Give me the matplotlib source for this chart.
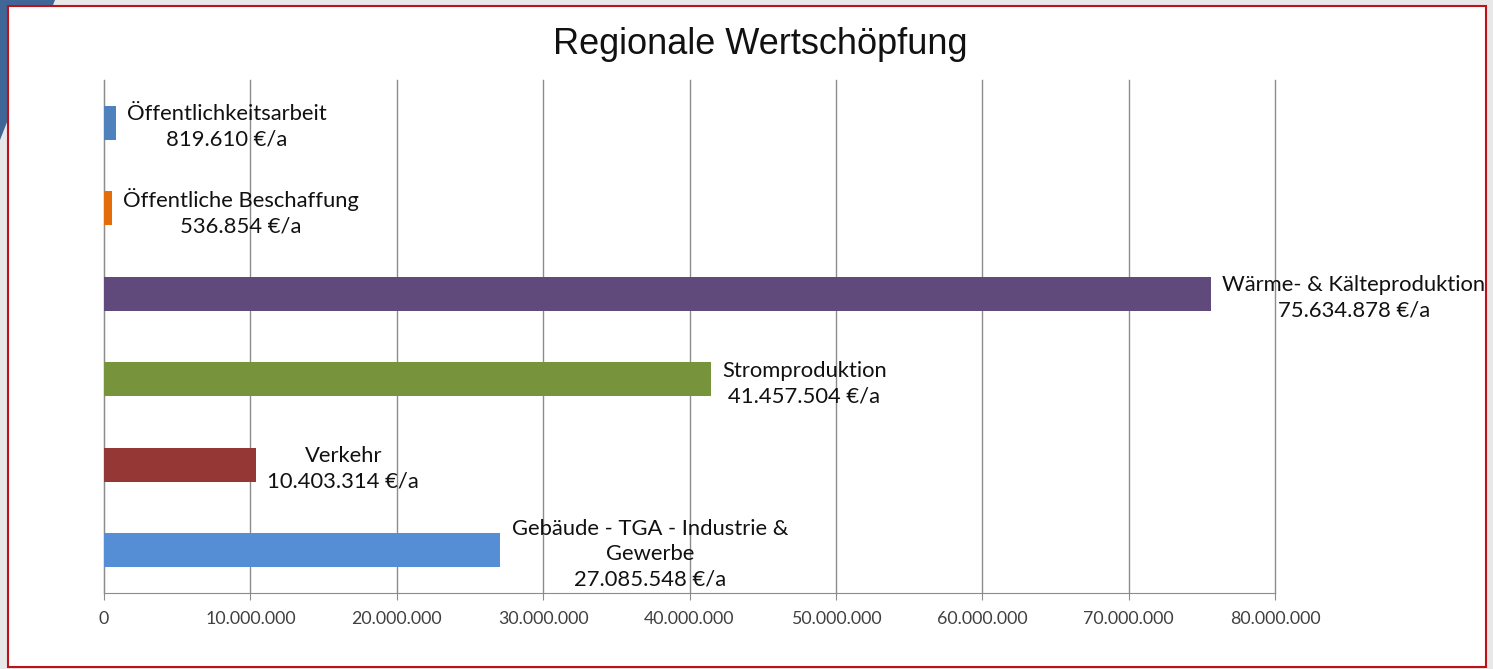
import matplotlib
matplotlib.use("Agg")
import matplotlib.pyplot as plt
from matplotlib.patches import Rectangle, Polygon
from matplotlib.ticker import FuncFormatter

# data
categories = ['Gebäude - TGA - Industrie &\nGewerbe', 'Verkehr', 'Stromproduktion',
              'Wärme- & Kälteproduktion', 'Öffentliche Beschaffung', 'Öffentlichkeitsarbeit']
values = [27085548, 10403314, 41457504, 75634878, 536854, 819610]
colors = ['#558ED5', '#953735', '#77933C', '#604A7B', '#E46C0A', '#4F81BD']
xticks = [0, 10000000, 20000000, 30000000, 40000000, 50000000, 60000000, 70000000, 80000000]


def dotted(v):
    return f"{int(v):,}".replace(",", ".")


W, H = 1493, 669
fig = plt.figure(figsize=(W / 100, H / 100), dpi=100)
fig.patch.set_facecolor('#e8e8e8')

# decoration: blue slab and framed white panel
fig.patches.append(Polygon([(0, 1), (55 / W, 1), (0, 1 - 140 / H)], closed=True,
                           transform=fig.transFigure, facecolor='#3f6696', edgecolor='none', zorder=0))
fig.patches.append(Rectangle((8 / W, 1 - 667 / H), (1486 - 8) / W, (667 - 6) / H,
                             transform=fig.transFigure, facecolor='white', edgecolor='#c0101a',
                             linewidth=1.5, zorder=1))

ax = fig.add_axes([104 / W, 1 - 593 / H, (1275 - 104) / W, (593 - 80) / H])
ax.set_facecolor('none')
ax.set_zorder(2)

ypos = list(range(len(values)))
ax.barh(ypos, values, height=0.4, color=colors, zorder=3)

for y, v, name in zip(ypos, values, categories):
    ax.annotate(name + '\n' + dotted(v) + ' €/a', xy=(v, y), xytext=(8, -3),
                textcoords='offset points', ha='left', va='center', multialignment='center',
                fontsize=15.8, family='Lato', color='#111111', linespacing=1.33, zorder=4)

ax.set_xlim(0, 80000000)
ax.set_ylim(-0.5, 5.5)
ax.set_xticks(xticks)
ax.xaxis.set_major_formatter(FuncFormatter(lambda v, p: dotted(v)))
ax.set_yticks([])
ax.grid(axis='x', color='#8c8c8c', linewidth=1.0, zorder=0)
for gl in ax.get_xgridlines():
    gl.set_clip_on(False)
for s in ['top', 'right']:
    ax.spines[s].set_visible(False)
ax.spines['left'].set_color('#8c8c8c')
ax.spines['bottom'].set_color('#8c8c8c')
ax.tick_params(axis='x', direction='out', length=5, color='#8c8c8c', labelsize=12.8,
               labelcolor='#404040', pad=8)
for lbl in ax.get_xticklabels():
    lbl.set_family('Lato')

fig.text(760 / W, 1 - 45 / H, 'Regionale Wertschöpfung', ha='center', va='center',
         fontsize=26, family='Liberation Sans', color='#111111', zorder=5)

fig.savefig('out.png', dpi=100, facecolor=fig.get_facecolor())
